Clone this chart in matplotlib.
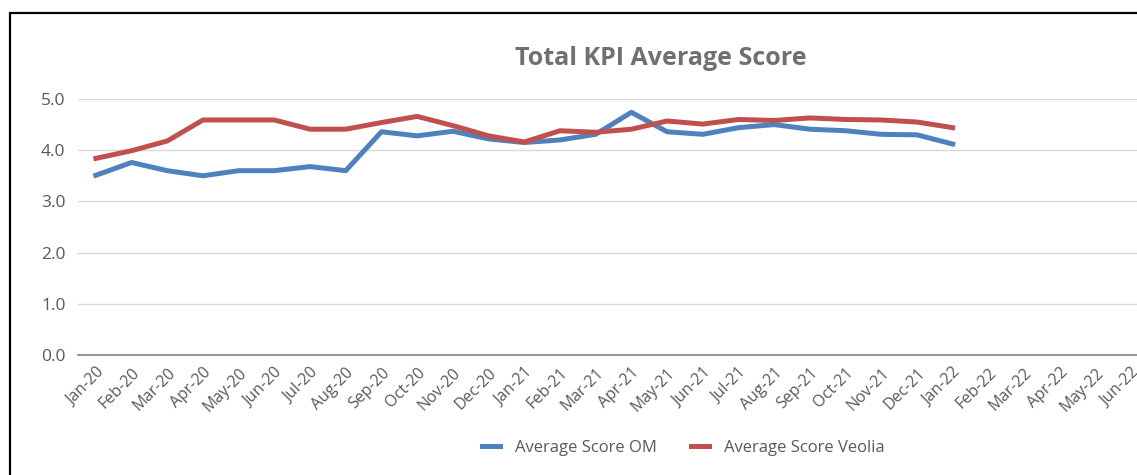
import matplotlib
matplotlib.use("Agg")
import matplotlib.pyplot as plt
from matplotlib.patches import Rectangle

months = ["Jan-20", "Feb-20", "Mar-20", "Apr-20", "May-20", "Jun-20", "Jul-20", "Aug-20",
          "Sep-20", "Oct-20", "Nov-20", "Dec-20", "Jan-21", "Feb-21", "Mar-21", "Apr-21",
          "May-21", "Jun-21", "Jul-21", "Aug-21", "Sep-21", "Oct-21", "Nov-21", "Dec-21",
          "Jan-22", "Feb-22", "Mar-22", "Apr-22", "May-22", "Jun-22"]

score_om = [3.51, 3.76, 3.60, 3.50, 3.60, 3.60, 3.68, 3.60, 4.36, 4.28, 4.37, 4.22, 4.15,
            4.20, 4.31, 4.74, 4.36, 4.31, 4.44, 4.50, 4.41, 4.38, 4.31, 4.30, 4.12]
score_veolia = [3.84, 3.99, 4.18, 4.59, 4.59, 4.59, 4.41, 4.41, 4.54, 4.66, 4.48, 4.28, 4.16,
                4.38, 4.35, 4.41, 4.57, 4.51, 4.60, 4.58, 4.63, 4.60, 4.59, 4.55, 4.44]

plt.rcParams['font.family'] = ['Open Sans', 'DejaVu Sans']

fig = plt.figure(figsize=(11.37, 4.75), dpi=100)
ax = fig.add_axes([0.0686, 0.2526, 0.942, 0.539])

x = list(range(len(months)))
ax.plot(x[:len(score_om)], score_om, color="#4F81BD", lw=3.6, label="Average Score OM",
        solid_joinstyle="round")
ax.plot(x[:len(score_veolia)], score_veolia, color="#C0504D", lw=3.6, label="Average Score Veolia",
        solid_joinstyle="round")

ax.set_xlim(-0.5, len(months) - 0.5)
ax.set_ylim(0, 5)
ax.set_yticks([0, 1, 2, 3, 4, 5])
ax.set_yticklabels(["0.0", "1.0", "2.0", "3.0", "4.0", "5.0"])
ax.set_xticks(x)
ax.set_xticklabels(months, rotation=45, ha="right", rotation_mode="anchor")
ax.tick_params(axis="both", length=0, labelsize=11.5, colors="#595959")
ax.tick_params(axis="y", pad=9, labelsize=12.5)
ax.tick_params(axis="x", pad=7)
ax.grid(axis="y", color="#D9D9D9", lw=1)
ax.set_axisbelow(True)
for s in ["top", "right", "left"]:
    ax.spines[s].set_visible(False)
ax.spines["bottom"].set_color("#8C8C8C")
ax.spines["bottom"].set_linewidth(1.3)

fig.text(0.581, 0.877, "Total KPI Average Score", ha="center", va="center",
         fontsize=18, fontweight="bold", color="#707070")

fig.legend(loc="center", bbox_to_anchor=(0.601, 0.057), ncol=2, frameon=False,
           fontsize=12, handlelength=1.1, columnspacing=2.0, handletextpad=0.9,
           labelcolor="#595959")

# chart frame (cropped on the right and bottom)
fig.patches.append(Rectangle((10 / 1137, -0.1), 1.2, 1 - 13 / 475 + 0.1, transform=fig.transFigure,
                             fill=False, edgecolor="black", lw=1.6))

fig.savefig("out.png", dpi=100)
